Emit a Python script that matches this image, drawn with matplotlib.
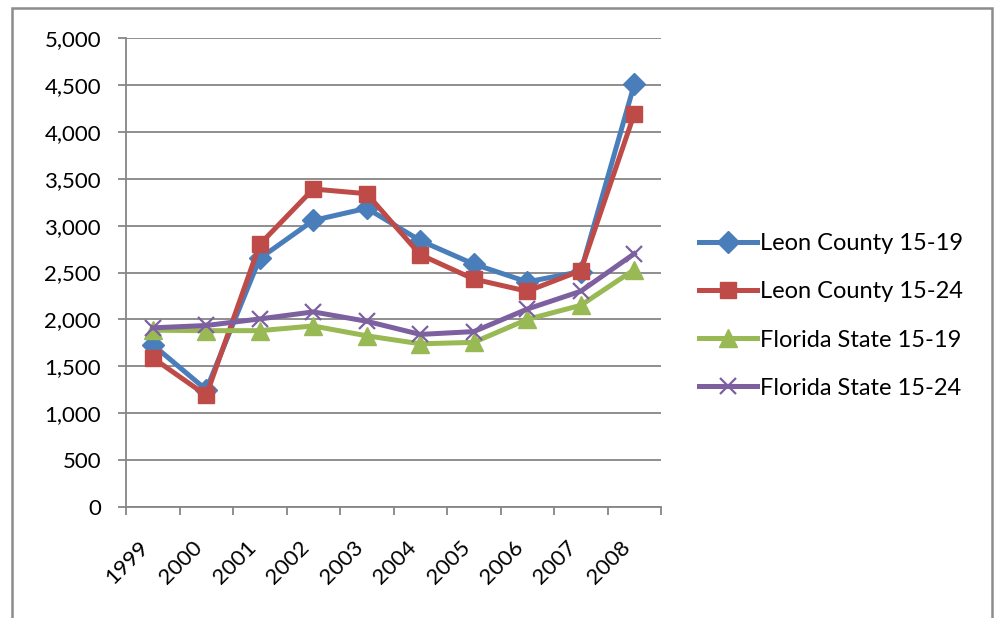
import matplotlib
matplotlib.use("Agg")
import matplotlib.pyplot as plt
from matplotlib.patches import Rectangle
from matplotlib.ticker import FuncFormatter, FixedLocator
from matplotlib.transforms import ScaledTranslation

plt.rcParams['font.family'] = ['Lato', 'DejaVu Sans']

years = ['1999', '2000', '2001', '2002', '2003', '2004', '2005', '2006', '2007', '2008']
leon_15_19 = [1730, 1250, 2650, 3055, 3185, 2840, 2590, 2400, 2510, 4505]
leon_15_24 = [1590, 1190, 2800, 3390, 3340, 2690, 2430, 2300, 2520, 4190]
fl_15_19 = [1885, 1880, 1880, 1930, 1825, 1740, 1755, 2000, 2150, 2530]
fl_15_24 = [1910, 1935, 2005, 2080, 1980, 1840, 1870, 2110, 2300, 2700]

series = [
    ('Leon County 15-19', leon_15_19, '#4A7EBB', 'D', 11),
    ('Leon County 15-24', leon_15_24, '#BE4B48', 's', 12),
    ('Florida State 15-19', fl_15_19, '#98B954', '^', 13),
    ('Florida State 15-24', fl_15_24, '#7D60A0', 'x', 12),
]

fig = plt.figure(figsize=(9.96, 6.18), dpi=100)
fig.patches.append(Rectangle((12 / 996, -0.02), 980 / 996, 1.02 - 8 / 618,
                             transform=fig.transFigure, fill=False,
                             edgecolor='#8c8c8c', linewidth=1.8, zorder=0))

ax = fig.add_axes([126 / 996, 1 - 507 / 618, 535 / 996, 469 / 618])
x = list(range(len(years)))
for name, vals, col, mk, ms in series:
    if mk == 'x':
        ax.plot(x, vals, color=col, lw=3.6, marker=mk, ms=ms, mew=1.6,
                label=name, solid_joinstyle='round', zorder=3)
    else:
        ax.plot(x, vals, color=col, lw=3.6, marker=mk, ms=ms, mec=col,
                label=name, solid_joinstyle='round', zorder=3)

ax.set_xlim(-0.5, len(years) - 0.5)
ax.set_ylim(0, 5000)
ax.set_yticks(range(0, 5001, 500))
ax.yaxis.set_major_formatter(FuncFormatter(lambda v, p: f'{int(v):,}'))
ax.grid(axis='y', color='#868686', lw=1.3)
ax.set_axisbelow(True)

ax.set_xticks(x)
ax.set_xticklabels(years, rotation=45, ha='right', rotation_mode='default')
shift = ScaledTranslation(8 / 100, 0, fig.dpi_scale_trans)
for lbl in ax.get_xticklabels():
    lbl.set_transform(lbl.get_transform() + shift)
ax.xaxis.set_minor_locator(FixedLocator([i - 0.5 for i in range(len(years) + 1)]))
ax.tick_params(axis='x', which='major', length=0, pad=22, labelsize=16)
ax.tick_params(axis='x', which='minor', length=6, width=1.3, color='#868686')
ax.tick_params(axis='y', length=6, width=1.3, color='#868686', pad=12, labelsize=16)

for s in ['top', 'right']:
    ax.spines[s].set_visible(False)
for s in ['left', 'bottom']:
    ax.spines[s].set_color('#868686')
    ax.spines[s].set_linewidth(1.3)

ax.legend(loc='center left', bbox_to_anchor=(699 / 996, 1 - 316 / 618),
          bbox_transform=fig.transFigure, frameon=False, fontsize=17,
          numpoints=1, handlelength=2.45, handletextpad=0.12,
          labelspacing=1.15, borderaxespad=0, borderpad=0)

fig.savefig('out.png', dpi=100)
